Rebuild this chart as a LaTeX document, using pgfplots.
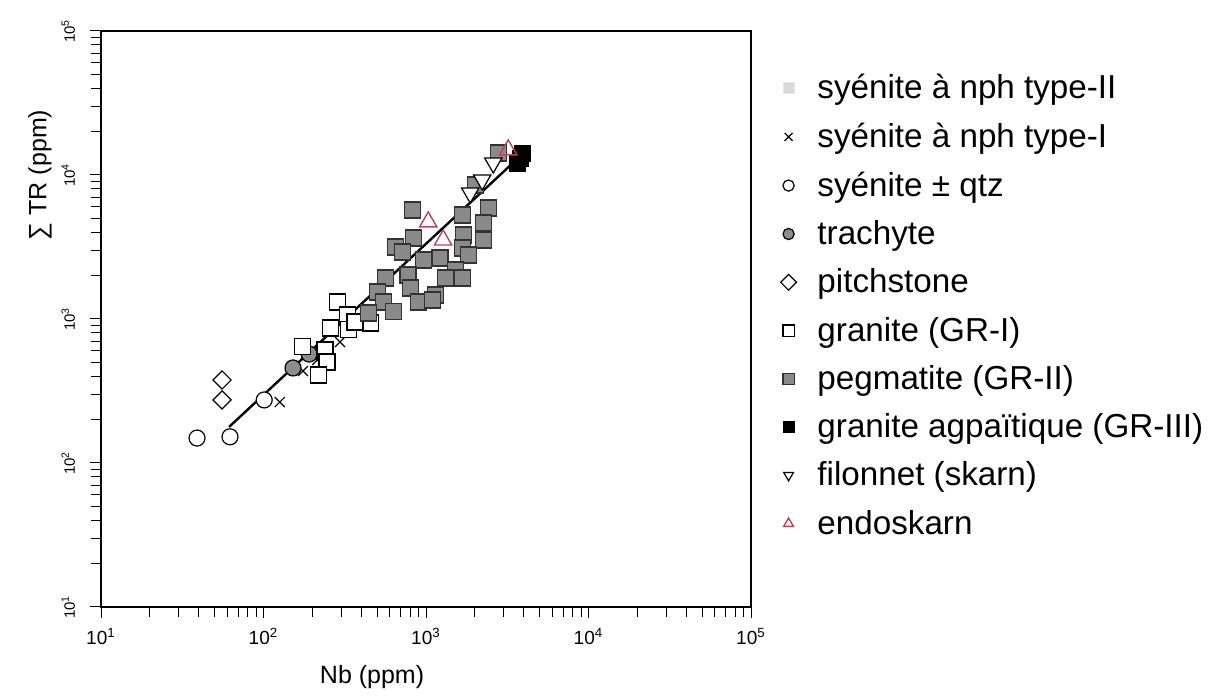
\documentclass[border=0pt]{standalone}
\usepackage{fontspec}
\setmainfont{Liberation Sans}
\usepackage{pgfplots}
\pgfplotsset{compat=1.18}
\definecolor{peg}{RGB}{138,138,138}
\definecolor{trc}{RGB}{140,140,140}
\definecolor{endo}{RGB}{192,64,90}
\begin{document}
\begin{tikzpicture}
\begin{loglogaxis}[
  at={(0,0)}, anchor=south west,
  scale only axis, width=325pt, height=288pt,
  xmin=10, xmax=100000, ymin=10, ymax=100000,
  axis line style={line width=0.8pt},
  every tick/.style={black, line width=0.5pt},
  xtick={10,100,1000,10000,100000},
  xticklabels={10\textsuperscript{1},10\textsuperscript{2},10\textsuperscript{3},10\textsuperscript{4},10\textsuperscript{5}},
  ytick={10,100,1000,10000,100000},
  yticklabels={10\textsuperscript{1},10\textsuperscript{2},10\textsuperscript{3},10\textsuperscript{4},10\textsuperscript{5}},
  tick pos=left, tick align=outside,
  major tick length=5.5pt, minor tick length=5pt,
  xticklabel style={font=\fontsize{9.5}{10}\selectfont, yshift=-1.5pt},
  yticklabel style={font=\fontsize{7.5}{8}\selectfont, xshift=-4pt, rotate=90, anchor=south},
  xlabel={Nb (ppm)},
  ylabel={∑ TR (ppm)},
  xlabel style={font=\fontsize{12.5}{14}\selectfont, at={(ticklabel cs:0.417)}, anchor=north, yshift=-3pt},
  ylabel style={font=\fontsize{12.5}{14}\selectfont, at={(ticklabel cs:0.75)}, yshift=-2pt},
  mark size=4pt,
  legend image post style={mark size=2.8pt},
  legend cell align=left,
  legend style={draw=none, fill=none, at={(rel axis cs:1.045,0.932)}, anchor=north west,
    font=\fontsize{16.6}{19}\selectfont, row sep=6.6pt, inner sep=0pt,
    /tikz/every odd column/.append style={column sep=8.5pt}},
]
\addlegendimage{only marks, mark=square*, mark options={fill=gray!30, draw=gray!20}}
\addlegendentry{syénite à nph type-II}

\addplot[only marks, mark=x, mark size=3.5pt, black, line width=0.6pt] coordinates {
 (126,265) (175,435) (214,519) (296,692)};
\addlegendentry{syénite à nph type-I}

\addplot[only marks, mark=*, mark options={fill=white, draw=black, line width=0.6pt}] coordinates {
 (39,149) (62.2,152) (101,274)};
\addlegendentry{syénite ± qtz}

\addplot[only marks, mark=*, mark options={fill=trc, draw=black, line width=0.6pt}] coordinates {
 (152,457) (191,571)};
\addlegendentry{trachyte}

\addplot[only marks, mark=square*, mark size=3.2pt, mark options={rotate=45, fill=white, draw=black, line width=0.6pt}] coordinates {
 (55.6,377) (55.6,274)};
\addlegendentry{pitchstone}

\addplot[only marks, mark=square*, mark options={fill=white, draw=black, line width=0.6pt}] coordinates {
 (284,1313) (327,1067) (453,938) (257,867) (332,840) (173,640) (239,609) (246,503) (217,408) (366,953)};
\addlegendentry{granite (GR-I)}

\addplot[only marks, mark=square*, mark options={fill=peg, draw=black!80, line width=0.6pt}] coordinates {
 (2010,8530) (2786,14220)
 (822,5715) (1671,5270) (2415,5900) (2248,4645) (1695,3830) (2248,3538) (834,3652) (646,3162)
 (713,2918) (1221,2655) (962,2570) (1671,3112) (1820,2782) (561,1928) (776,2023) (1514,2190)
 (1671,1928) (1312,1928) (800,1640) (1140,1468) (896,1313) (1092,1355) (501,1540) (545,1313)
 (628,1120) (441,1102)};
\addlegendentry{pegmatite (GR-II)}

\addplot[only marks, mark=square*, mark options={fill=black, draw=black}] coordinates {
 (3908,14220) (3645,12110) (3800,13000)};
\addlegendentry{granite agpaïtique (GR-III)}

\addplot[only marks, mark=triangle*, mark size=5pt, mark options={rotate=180, fill=white, draw=black, line width=0.6pt}] coordinates {
 (1871,7499) (2218,9226) (2594,12110)};
\addlegendentry{filonnet (skarn)}

\addplot[only marks, mark=triangle, mark size=5pt, mark options={draw=endo, line width=0.7pt}] coordinates {
 (1032,4720) (1275,3538) (3206,14940)};
\addlegendentry{endoskarn}

\addplot[forget plot, black, line width=1.2pt] coordinates {(61.4,178) (3698,13120)};
\end{loglogaxis}
\pgfresetboundingbox
\useasboundingbox (-50.5pt,-46.5pt) rectangle (560pt,303.5pt);
\end{tikzpicture}
\end{document}
